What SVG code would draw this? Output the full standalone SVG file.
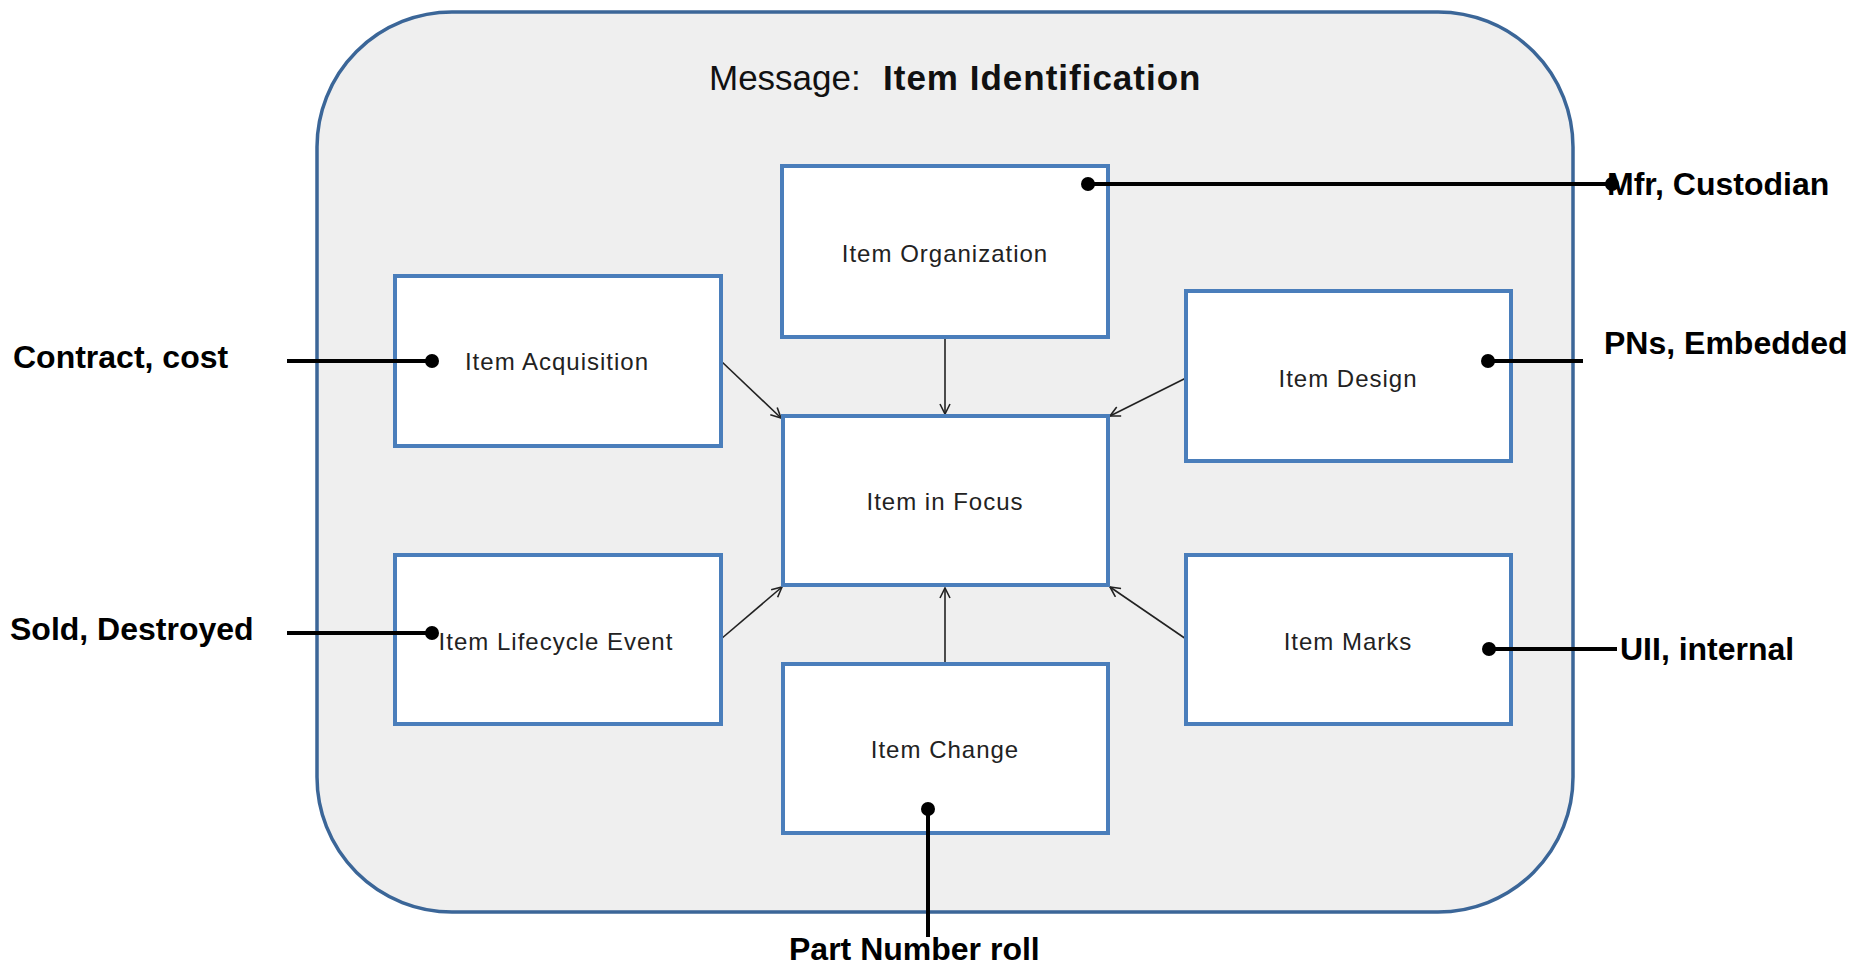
<svg xmlns="http://www.w3.org/2000/svg" width="1862" height="964" viewBox="0 0 1862 964">
<defs>
<style>
.box{fill:#ffffff;stroke:#4a7ebb;stroke-width:4}
.lbl{font-family:"Liberation Sans",Arial,sans-serif;font-size:24px;fill:#222;text-anchor:middle;letter-spacing:1px}
.ann{font-family:"Liberation Sans",Arial,sans-serif;font-size:32px;font-weight:bold;fill:#000}
.arr{stroke:#222;stroke-width:1.6;fill:none;marker-end:url(#ah)}
.lead{stroke:#000;stroke-width:4;fill:none}
.dot{fill:#000}
</style>
<marker id="ah" viewBox="0 0 12 12" refX="11" refY="6" markerWidth="12" markerHeight="12" markerUnits="userSpaceOnUse" orient="auto">
<path d="M1,1 L11,6 L1,11" fill="none" stroke="#222" stroke-width="1.6"/>
</marker>
</defs>
<rect width="1862" height="964" fill="#ffffff"/>
<g id="container">
<rect x="317" y="12" width="1256" height="900" rx="135" ry="135" fill="#efefef" stroke="#3b6698" stroke-width="3.5"/>
<text x="709" y="90" font-family="Liberation Sans, Arial, sans-serif" font-size="35" fill="#111">Message:<tspan x="883" font-weight="bold" letter-spacing="1">Item Identification</tspan></text>
</g>
<g id="connectors">
<line class="arr" x1="945" y1="339" x2="945" y2="414"/>
<line class="arr" x1="721" y1="361" x2="781" y2="418"/>
<line class="arr" x1="1186" y1="378" x2="1110" y2="416"/>
<line class="arr" x1="721" y1="639" x2="782" y2="587"/>
<line class="arr" x1="945" y1="663" x2="945" y2="588"/>
<line class="arr" x1="1186" y1="639" x2="1110" y2="587"/>
</g>
<g id="node-organization"><rect class="box" x="782" y="166" width="326" height="171"/><text class="lbl" x="945" y="262">Item Organization</text></g>
<g id="node-acquisition"><rect class="box" x="395" y="276" width="326" height="170"/><text class="lbl" x="557" y="370">Item Acquisition</text></g>
<g id="node-design"><rect class="box" x="1186" y="291" width="325" height="170"/><text class="lbl" x="1348" y="387">Item Design</text></g>
<g id="node-focus"><rect class="box" x="783" y="416" width="325" height="169"/><text class="lbl" x="945" y="510">Item in Focus</text></g>
<g id="node-lifecycle"><rect class="box" x="395" y="555" width="326" height="169"/><text class="lbl" x="556" y="650">Item Lifecycle Event</text></g>
<g id="node-marks"><rect class="box" x="1186" y="555" width="325" height="169"/><text class="lbl" x="1348" y="650">Item Marks</text></g>
<g id="node-change"><rect class="box" x="783" y="664" width="325" height="169"/><text class="lbl" x="945" y="758">Item Change</text></g>
<g id="annotations">
<line class="lead" x1="1088" y1="184" x2="1612" y2="184"/><circle class="dot" cx="1088" cy="184" r="7"/><circle class="dot" cx="1612" cy="184" r="7"/>
<text class="ann" x="1607" y="195" font-size="31">Mfr, Custodian</text>
<line class="lead" x1="1488" y1="361" x2="1583" y2="361"/><circle class="dot" cx="1488" cy="361" r="7"/>
<text class="ann" x="1604" y="354">PNs, Embedded</text>
<line class="lead" x1="287" y1="361" x2="432" y2="361"/><circle class="dot" cx="432" cy="361" r="7"/>
<text class="ann" x="13" y="368">Contract, cost</text>
<line class="lead" x1="287" y1="633" x2="432" y2="633"/><circle class="dot" cx="432" cy="633" r="7"/>
<text class="ann" x="10" y="640">Sold, Destroyed</text>
<line class="lead" x1="1489" y1="649" x2="1617" y2="649"/><circle class="dot" cx="1489" cy="649" r="7"/>
<text class="ann" x="1620" y="660">UII, internal</text>
<line class="lead" x1="928" y1="809" x2="928" y2="937"/><circle class="dot" cx="928" cy="809" r="7"/>
<text class="ann" x="789" y="960" font-size="29.5">Part Number roll</text>
</g>
</svg>
